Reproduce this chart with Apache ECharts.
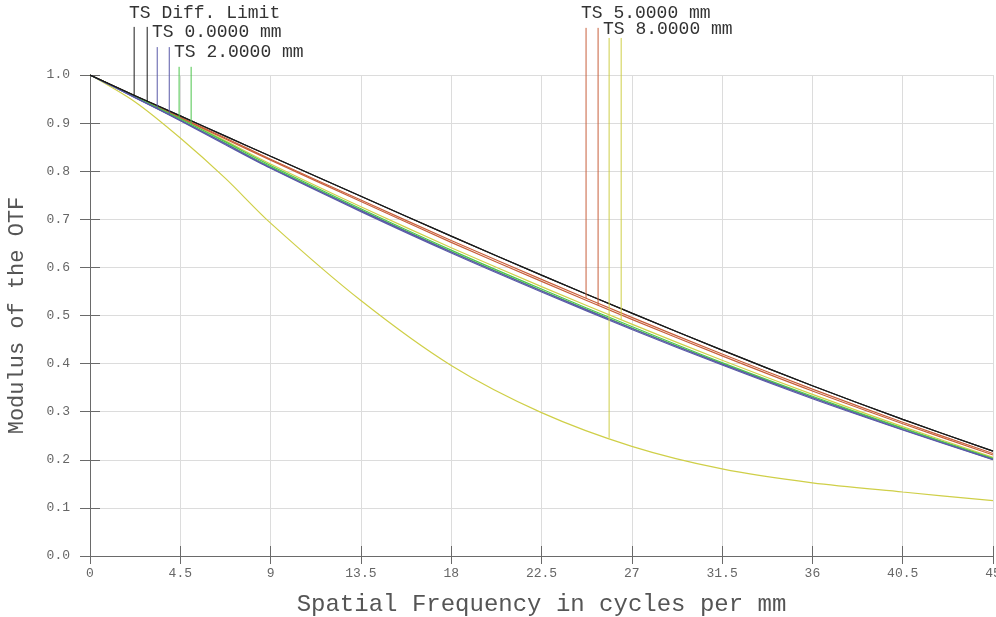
<!DOCTYPE html>
<html>
<head>
<meta charset="utf-8">
<title>MTF</title>
<script src="https://cdn.jsdelivr.net/npm/echarts@6/dist/echarts.min.js"></script>
<style>
html, body { margin: 0; padding: 0; background: #fff; }
#chart { width: 996px; height: 617px; }
</style>
</head>
<body>
<div id="chart"></div>
<script>
// spatial frequency samples (cycles per mm)
const freq = [0, 2.25, 4.5, 6.75, 9, 13.5, 18, 22.5, 27, 31.5, 36, 40.5, 45]

// modulus of the OTF
const diffLimit = [1.000, 0.957, 0.915, 0.873, 0.831, 0.748, 0.665, 0.584, 0.505, 0.428, 0.354, 0.284, 0.218]
const field0T = [1.000, 0.953, 0.905, 0.855, 0.806, 0.716, 0.630, 0.549, 0.471, 0.397, 0.327, 0.262, 0.200]
const field0S = [1.000, 0.953, 0.906, 0.857, 0.807, 0.718, 0.632, 0.551, 0.473, 0.399, 0.329, 0.263, 0.201]
const field2T = [1.000, 0.954, 0.907, 0.858, 0.809, 0.719, 0.633, 0.552, 0.474, 0.400, 0.330, 0.265, 0.202]
const field2S = [1.000, 0.955, 0.909, 0.861, 0.812, 0.722, 0.636, 0.555, 0.477, 0.402, 0.332, 0.266, 0.203]
const field5T = [1.000, 0.956, 0.912, 0.869, 0.825, 0.740, 0.656, 0.575, 0.496, 0.420, 0.347, 0.278, 0.213]
const field5S = [1.000, 0.955, 0.911, 0.867, 0.823, 0.737, 0.652, 0.571, 0.492, 0.416, 0.343, 0.275, 0.210]
const field8T = [1.000, 0.944, 0.869, 0.785, 0.692, 0.531, 0.396, 0.298, 0.228, 0.181, 0.152, 0.133, 0.115]
const field8S = [1.000, 0.955, 0.910, 0.863, 0.815, 0.726, 0.641, 0.560, 0.482, 0.407, 0.336, 0.269, 0.205]

// legend labels and where their T / S marker lines sit
const legendLabels = ['TS Diff. Limit', 'TS 0.0000 mm', 'TS 2.0000 mm', 'TS 5.0000 mm', 'TS 8.0000 mm']
const legendColors = ['#1a1a1a', '#5a5aa8', '#4cc44c', '#c8603c', '#cfcf48']
const legendFreq = [[2.20, 2.85], [3.35, 3.95], [4.44, 5.04], [24.72, 25.32], [25.87, 26.47]]
const legendTop = [1.100, 1.058, 1.017, 1.098, 1.077]

const curves = [
  [diffLimit, diffLimit],
  [field0T, field0S],
  [field2T, field2S],
  [field5T, field5S],
  [field8T, field8S]
]

const fontMono = '"Liberation Mono", "Courier New", monospace'

const pairs = (ys) => freq.map((f, i) => [f, ys[i]])

// linear read of a curve at frequency f
const valueAt = (ys, f) => {
  for (let i = 1; i < freq.length; i++) {
    if (f <= freq[i]) {
      const t = (f - freq[i - 1]) / (freq[i] - freq[i - 1])
      return ys[i - 1] + t * (ys[i] - ys[i - 1])
    }
  }
  return ys[ys.length - 1]
}

const series = []
// draw fields first, diffraction limit last (on top)
for (let k = curves.length - 1; k >= 0; k--) {
  curves[k].forEach((ys) => {
    series.push({
      type: 'line',
      data: pairs(ys),
      showSymbol: false,
      smooth: 0.3,
      silent: true,
      lineStyle: { color: legendColors[k], width: 1.2 },
      z: 2
    })
  })
}

// legend marker lines, running from the label down to each curve
curves.forEach((pair, k) => {
  pair.forEach((ys, j) => {
    const f = legendFreq[k][j]
    series.push({
      type: 'line',
      data: [[f, legendTop[k]], [f, valueAt(ys, f)]],
      showSymbol: false,
      clip: false,
      silent: true,
      lineStyle: { color: legendColors[k], width: 1 },
      z: 3
    })
  })
})

const axisColor = '#6a6a6a'

const option = {
  backgroundColor: '#ffffff',
  animation: false,
  grid: { left: 90, right: 3, top: 75, bottom: 61, outerBoundsMode: 'none' },
  xAxis: [
    {
      type: 'value',
      min: 0,
      max: 45,
      interval: 4.5,
      position: 'bottom',
      name: 'Spatial Frequency in cycles per mm',
      nameLocation: 'middle',
      nameGap: 37,
      nameTextStyle: { color: '#555', fontFamily: fontMono, fontSize: 24 },
      axisLine: { show: true, lineStyle: { color: axisColor } },
      axisTick: { show: true, inside: true, length: 10, lineStyle: { color: axisColor } },
      axisLabel: { color: '#666', fontFamily: fontMono, fontSize: 13, margin: 11 },
      splitLine: { show: true, lineStyle: { color: '#dcdcdc' } }
    },
    {
      type: 'value',
      min: 0,
      max: 45,
      interval: 4.5,
      position: 'top',
      axisLine: { show: true, lineStyle: { color: axisColor } },
      axisTick: { show: true, inside: true, length: 8, lineStyle: { color: axisColor } },
      axisLabel: { show: false },
      splitLine: { show: false }
    }
  ],
  yAxis: [
    {
      type: 'value',
      min: 0,
      max: 1,
      interval: 0.1,
      position: 'left',
      name: 'Modulus of the OTF',
      nameLocation: 'middle',
      nameGap: 62,
      nameTextStyle: { color: '#555', fontFamily: fontMono, fontSize: 22 },
      axisLine: { show: true, lineStyle: { color: axisColor } },
      axisTick: { show: true, inside: true, length: 10, lineStyle: { color: axisColor } },
      axisLabel: {
        color: '#666',
        fontFamily: fontMono,
        fontSize: 13,
        margin: 20,
        formatter: (v) => v.toFixed(1)
      },
      splitLine: { show: true, lineStyle: { color: '#dcdcdc' } }
    },
    {
      type: 'value',
      min: 0,
      max: 1,
      interval: 0.1,
      position: 'right',
      axisLine: { show: true, lineStyle: { color: axisColor } },
      axisTick: { show: true, inside: true, length: 10, lineStyle: { color: axisColor } },
      axisLabel: { show: false },
      splitLine: { show: false }
    }
  ],
  graphic: [
    { type: 'text', x: 129, y: 13.5, style: { text: legendLabels[0], font: '18px ' + fontMono, fill: '#333', verticalAlign: 'middle' } },
    { type: 'text', x: 152, y: 32.5, style: { text: legendLabels[1], font: '18px ' + fontMono, fill: '#333', verticalAlign: 'middle' } },
    { type: 'text', x: 174, y: 52.5, style: { text: legendLabels[2], font: '18px ' + fontMono, fill: '#333', verticalAlign: 'middle' } },
    { type: 'text', x: 581, y: 13, style: { text: legendLabels[3], font: '18px ' + fontMono, fill: '#333', verticalAlign: 'middle' } },
    { type: 'text', x: 603, y: 29, style: { text: legendLabels[4], font: '18px ' + fontMono, fill: '#333', verticalAlign: 'middle' } }
  ],
  series: series
}

const chart = echarts.init(document.getElementById('chart'))
chart.setOption(option)
window.addEventListener('resize', () => chart.resize())
</script>
</body>
</html>
